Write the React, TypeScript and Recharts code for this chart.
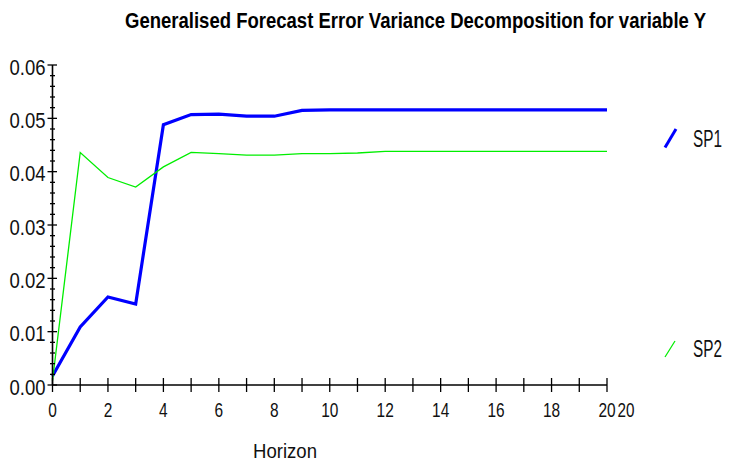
import React from 'react';
import { LineChart, Line, XAxis, YAxis, Legend, Customized } from 'recharts';

const horizon = [0, 1, 2, 3, 4, 5, 6, 7, 8, 9, 10, 11, 12, 13, 14, 15, 16, 17, 18, 19, 20];
const sp1 = [0.0017, 0.0109, 0.0165, 0.0152, 0.0488, 0.0507, 0.0508, 0.0504, 0.0504, 0.0515, 0.0516, 0.0516, 0.0516, 0.0516, 0.0516, 0.0516, 0.0516, 0.0516, 0.0516, 0.0516, 0.0516];
const sp2 = [0.0008, 0.0436, 0.0389, 0.0371, 0.0409, 0.0436, 0.0434, 0.0431, 0.0431, 0.0434, 0.0434, 0.0435, 0.0438, 0.0438, 0.0438, 0.0438, 0.0438, 0.0438, 0.0438, 0.0438, 0.0438];

const xTicks = horizon;
const xLabels = ['0', '', '2', '', '4', '', '6', '', '8', '', '10', '', '12', '', '14', '', '16', '', '18', '', '20'];
const yTicks = [0, 0.002, 0.004, 0.006, 0.008, 0.01, 0.012, 0.014, 0.016, 0.018, 0.02, 0.022, 0.024, 0.026, 0.028, 0.03, 0.032, 0.034, 0.036, 0.038, 0.04, 0.042, 0.044, 0.046, 0.048, 0.05, 0.052, 0.054, 0.056, 0.058, 0.06];
const yLabels = ['0.00', '0.01', '0.02', '0.03', '0.04', '0.05', '0.06'];

const title = 'Generalised Forecast Error Variance Decomposition for variable Y';
const xTitle = 'Horizon';

const data = horizon.map((h, i) => ({ h, SP1: sp1[i], SP2: sp2[i] }));

const FONT = "'Liberation Sans', Arial, sans-serif";

const STxt = (p: any) => {
  const { x, y, w, fs, k, anchor = 'start', bold = false, children } = p;
  return (
    <text transform={`translate(${x},${y}) scale(1,${k})`} x={0} y={0} textAnchor={anchor}
      fontSize={fs} fontWeight={bold ? 'bold' : 'normal'} fontFamily={FONT} fill={bold ? '#000' : '#111'}
      textLength={w} lengthAdjust="spacingAndGlyphs">{children}</text>
  );
};

const XTick = (props: any) => {
  const { x, y, payload, index } = props;
  const label = xLabels[index] ?? '';
  const isLast = payload.value === 20;
  return (
    <g>
      <line x1={x} x2={x} y1={y - 7} y2={y + 7} stroke="#000" strokeWidth={1.3} />
      {label !== '' && (
        <STxt x={x} y={y + 31.5} w={label.length * 8.6} fs={16} k={1.3} anchor="middle">{label}</STxt>
      )}
      {isLast && (
        <STxt x={x + 19} y={y + 31.5} w={17} fs={16} k={1.3} anchor="middle">{label}</STxt>
      )}
    </g>
  );
};

const YTick = (props: any) => {
  const { x, y, payload } = props;
  const n = Math.round(payload.value * 1000);
  const major = n % 10 === 0;
  const label = major ? yLabels[n / 10] : null;
  return (
    <g>
      {major ? (
        <line x1={x - 5} x2={x + 4.5} y1={y} y2={y} stroke="#000" strokeWidth={1.3} />
      ) : (
        <line x1={x - 2.5} x2={x + 2.5} y1={y} y2={y} stroke="#000" strokeWidth={1.3} />
      )}
      {label && (
        <STxt x={x - 7} y={y + 9.5} w={36} fs={18.2} k={1.22} anchor="end">{label}</STxt>
      )}
    </g>
  );
};

const renderLegend = (props: any) => {
  const payload = props.payload || [];
  const pos: Record<string, { y: number; x1: number; y1: number; x2: number; y2: number; w: number }> = {
    SP1: { y: 147, x1: 665, y1: 147.5, x2: 676, y2: 129, w: 3 },
    SP2: { y: 357, x1: 665, y1: 357, x2: 675, y2: 341, w: 1.3 },
  };
  return (
    <svg width={729} height={465} style={{ position: 'absolute', left: 0, top: 0, pointerEvents: 'none', overflow: 'visible' }}>
      {payload.map((p: any) => {
        const k = p.value as string;
        const q = pos[k];
        if (!q) return null;
        return (
          <g key={k}>
            <line x1={q.x1} y1={q.y1} x2={q.x2} y2={q.y2} stroke={p.color} strokeWidth={q.w} />
            <STxt x={693} y={q.y} w={29} fs={15.5} k={1.5}>{k}</STxt>
          </g>
        );
      })}
    </svg>
  );
};

const Texts = () => (
  <g>
    <STxt x={125} y={28} w={581} fs={17} k={1.3} bold>{title}</STxt>
    <STxt x={253} y={458} w={64} fs={18.5} k={1.13}>{xTitle}</STxt>
  </g>
);

export default function App() {
  return (
    <div style={{ position: 'absolute', left: 0, top: 0, width: 729, height: 465, background: '#fff' }}>
      <LineChart width={729} height={465} data={data} margin={{ top: 65, right: 122, left: 0.5, bottom: 0 }}>
        <XAxis dataKey="h" type="number" domain={[0, 20]} ticks={xTicks} interval={0}
          height={80} tickLine={false} tickSize={0} tickMargin={0}
          axisLine={{ stroke: '#000', strokeWidth: 1.6 }} tick={<XTick />} />
        <YAxis type="number" domain={[0, 0.06]} ticks={yTicks} interval={0}
          width={52} tickLine={false} tickSize={0} tickMargin={0}
          axisLine={{ stroke: '#000', strokeWidth: 1.6 }} tick={<YTick />} />
        <Line type="linear" dataKey="SP1" stroke="#0000ff" strokeWidth={3.2} dot={false} isAnimationActive={false} />
        <Line type="linear" dataKey="SP2" stroke="#00ee00" strokeWidth={1.3} dot={false} isAnimationActive={false} />
        <Legend content={renderLegend}
          wrapperStyle={{ position: 'absolute', left: 0, top: 0, width: 0, height: 0, overflow: 'visible' }} />
        <Customized component={Texts} />
      </LineChart>
    </div>
  );
}
